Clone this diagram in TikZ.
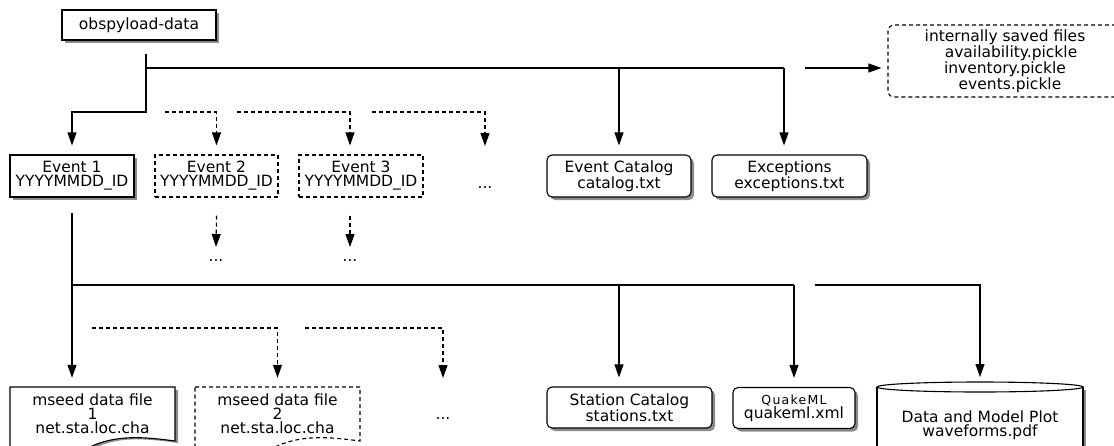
\documentclass[tikz,border=0pt]{standalone}
\usepackage{fontspec}
\setmainfont{DejaVu Sans}
\usetikzlibrary{arrows.meta,shadows,calc}
\begin{document}
\begin{tikzpicture}[x=1pt,y=-1pt,
  ln/.style={draw=black,line width=1.1pt},
  arr/.style={ln,-{Triangle[length=13pt,width=9pt]}},
  dsh/.style={dash pattern=on 4pt off 3pt},
  txtfont/.style={font=\fontsize{15.5pt}{14pt}\selectfont},
  box/.style={draw,line width=1.1pt,fill=white,inner sep=0pt,align=center,txtfont},
  rbox/.style={box,rounded corners=5pt},
  sh/.style={drop shadow={shadow xshift=3pt,shadow yshift=-3pt,fill=black,opacity=0.45}},
  plain/.style={inner sep=0pt,align=center,txtfont},
  dots/.style={inner sep=0pt,txtfont,anchor=base},
  shadowfill/.style={fill=black,opacity=0.45}
]
\useasboundingbox (0,0) rectangle (1114,445);
\clip (0,0) rectangle (1114,445);
\fill[white] (0,0) rectangle (1114,445);

% ---------- upper row ----------
\node[box,sh,minimum width=154pt,minimum height=30pt] (obs) at (139,25) {obspyload-data};
\node[box,sh,minimum width=124pt,minimum height=42pt] (e1) at (72,176) {Event 1\\YYYYMMDD\_ID};
\node[box,dsh,minimum width=123pt,minimum height=42pt] (e2) at (216.5,176) {Event 2\\YYYYMMDD\_ID};
\node[box,dsh,minimum width=124pt,minimum height=42pt] (e3) at (361,176) {Event 3\\YYYYMMDD\_ID};
\node[dots] (d1) at (485,188) {...};
\node[rbox,sh,minimum width=144pt,minimum height=42pt] (cat) at (619,176) {Event Catalog\\catalog.txt};
\node[rbox,sh,minimum width=155pt,minimum height=42pt] (exc) at (789.5,176) {Exceptions\\exceptions.txt};
\node[draw,line width=1.1pt,dsh,rounded corners=6pt,inner sep=0pt,align=center,
      font=\fontsize{15.5pt}{14pt}\selectfont,minimum width=234pt,minimum height=72pt] (int) at (1005,61)
  {internally saved files\\\hspace*{12pt}availability.pickle\\inventory.pickle\\\hspace*{10pt}events.pickle};
\node[dots] (d2) at (216,261) {...};
\node[dots] (d3) at (350,261) {...};

% ---------- lower row ----------
% mseed data file 1 (document shape)
\path[shadowfill] (13,390) -- (178,390) -- (178,443) .. controls (148,439) and (118,435) .. (91,450) .. controls (63,465) and (38,461) .. (13,455) -- cycle;
\draw[line width=1.1pt,fill=white] (10,387) -- (175,387) -- (175,441) .. controls (145,437) and (115,434) .. (88,448) .. controls (60,462) and (35,458) .. (10,452) -- cycle;
% mseed data file 2 (dashed document shape)
\draw[line width=1.1pt,dsh,fill=white] (195,387) -- (360,387) -- (360,441) .. controls (330,437) and (300,434) .. (273,448) .. controls (245,462) and (220,458) .. (195,452) -- cycle;
\node[plain,minimum width=165pt,minimum height=54pt] (m1) at (92.5,414) {mseed data file\\1\\net.sta.loc.cha};
\node[plain,minimum width=165pt,minimum height=54pt] (m2) at (277.5,414) {mseed data file\\2\\net.sta.loc.cha};
\node[dots] (d4) at (443,419) {...};

\node[rbox,sh,minimum width=165pt,minimum height=41pt] (sta) at (629.5,407.5) {Station Catalog\\stations.txt};
\node[rbox,sh,minimum width=122pt,minimum height=41pt] (qml) at (794,408)
  {{\fontsize{12.5pt}{12.5pt}\selectfont\addfontfeature{LetterSpace=10}QuakeML}\\quakeml.xml};

% cylinder
\fill[black,opacity=0.45] (1083,390) rectangle (1086,460);
\fill[white] (877,387) rectangle (1083,460);
\draw[line width=1.1pt] (877,387) -- (877,460);
\draw[line width=1.1pt] (1083,387) -- (1083,460);
\draw[line width=1.1pt,fill=white] (980,387) ellipse [x radius=103pt,y radius=5pt];
\coordinate (cyltop) at (980,382);
\node[plain] (cyl) at (980,425) {Data and Model Plot\\waveforms.pdf};

% ---------- connectors ----------
\coordinate (o1) at (146,54);
\coordinate (o2) at (146,68);
\draw[arr,shorten >=9pt] (o1) -- (146,112) -| (e1.north);
\draw[ln] (o2) -- ([xshift=-5.5pt]exc.north |- o2);
\draw[arr,shorten >=9pt] (cat.north |- o2) -- (cat.north);
\draw[arr,shorten >=9pt] ([xshift=-5.5pt]exc.north |- o2) -- ([xshift=-5.5pt]exc.north);
\coordinate (r0) at (805,68);
\draw[arr,shorten >=6pt] (r0) -- (r0 -| int.west);

\coordinate (f1) at (165,112);
\coordinate (f2) at (237,112);
\coordinate (f3) at (372,112);
\draw[arr,dsh,shorten >=9pt] (f1) -| (e2.north);
\draw[arr,dsh,shorten >=9pt] (f2) -| ([xshift=-11pt]e3.north);
\draw[arr,dsh] (f3) -| ([yshift=42pt]d1.base);
\draw[arr,dsh] ([yshift=-18pt]e2.south) -- ([yshift=14pt]d2.base);
\draw[arr,dsh] ([xshift=-11pt,yshift=-18pt]e3.south) -- ([yshift=14pt]d3.base);

\coordinate (h) at (72,285);
\coordinate (h2) at (815,285);
\draw[arr,shorten >=9pt] ([yshift=-15pt]e1.south) -- (h |- m1.north);
\draw[ln] (h) -- (qml.north |- h);
\draw[arr,shorten >=9pt] (cat.north |- h) -- (cat.north |- sta.north);
\draw[arr,shorten >=9pt] (qml.north |- h) -- (qml.north);
\draw[arr,shorten >=5pt] (h2) -| (cyltop);

\coordinate (g1) at (92,328);
\coordinate (g2) at (305,328);
\draw[arr,dsh,shorten >=9pt] (g1) -| (m2.north);
\draw[arr,dsh] (g2) -| ([yshift=41pt]d4.base);
\end{tikzpicture}
\end{document}
